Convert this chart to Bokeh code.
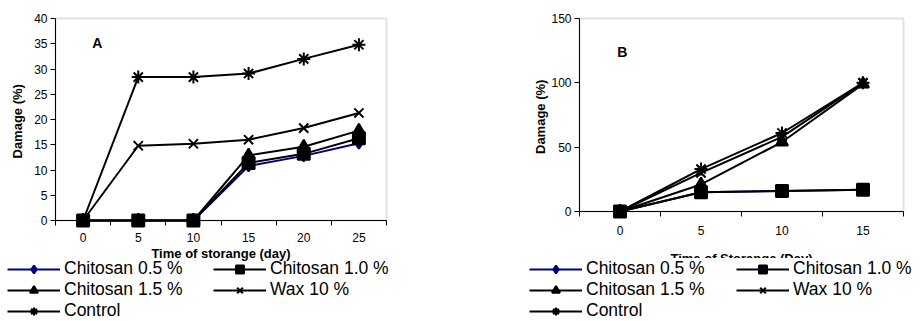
from bokeh.plotting import figure
from bokeh.models import (FixedTicker, Legend, LegendItem, Range1d, Label,
                          BoxAnnotation, LinearAxis)
from bokeh.layouts import row
from bokeh.embed import file_html
from bokeh.resources import INLINE

# ---------------- data ----------------
days_a = [0, 5, 10, 15, 20, 25]
chit05_a = [0, 0, 0, 10.8, 12.8, 15.3]
chit10_a = [0, 0, 0, 11.4, 13.2, 16.3]
chit15_a = [0, 0, 0, 12.9, 14.6, 17.8]
wax10_a = [0, 14.8, 15.2, 16.0, 18.3, 21.3]
control_a = [0, 28.4, 28.4, 29.1, 32.0, 34.8]

days_b = [0, 5, 10, 15]
chit05_b = [0, 15, 16, 17]
chit10_b = [0, 15, 16, 17]
chit15_b = [0, 21, 54, 99]
wax10_b = [0, 30, 58, 100]
control_b = [0, 33, 61, 100]

labels = ["Chitosan 0.5 %", "Chitosan 1.0 %", "Chitosan 1.5 %", "Wax 10 %", "Control"]
yticks_a = [0, 5, 10, 15, 20, 25, 30, 35, 40]
yticks_b = [0, 50, 100, 150]

FONT = "Liberation Sans"
NAVY = "#000080"
H = 321

styles = [
    dict(color=NAVY, marker="diamond", size=11, fill=NAVY),
    dict(color="black", marker="square", size=12, fill="black"),
    dict(color="black", marker="triangle", size=12, fill="black"),
    dict(color="black", marker="x", size=13, fill="black"),
    dict(color="black", marker="asterisk", size=13, fill="black"),
]
# legend fills column by column: reorder so it reads row by row
legend_order = [0, 2, 4, 1, 3]


def make_panel(days, series, yticks, width, frame_px, xlabel, letter,
               letter_xy, leg_loc, leg_lw, leg_bg_alpha, ylab_standoff,
               xtick_standoff, xlab_standoff):
    fl, fr, ft, fb = frame_px
    step = days[1] - days[0]
    xlo, xhi = days[0] - step / 2, days[-1] + step / 2
    ylo, yhi = yticks[0], yticks[-1]
    sx = (fr - fl) / (xhi - xlo)
    sy = (fb - ft) / (yhi - ylo)
    p = figure(width=width, height=H, output_backend="svg",
               toolbar_location=None,
               x_range=Range1d(xlo - fl / sx, xhi + (width - fr) / sx),
               y_range=Range1d(ylo - (H - fb) / sy, yhi + ft / sy),
               min_border=0, x_axis_location=None, y_axis_location=None)
    p.grid.visible = False
    p.outline_line_color = None
    p.background_fill_color = "white"
    p.border_fill_color = "white"

    p.add_layout(BoxAnnotation(left=xlo, right=xhi, bottom=ylo, top=yhi,
                               fill_alpha=0, line_color="#9a9a9a",
                               line_width=2, level="underlay"))

    minor = [d - step / 2 for d in days] + [xhi]
    xa = LinearAxis(fixed_location=ylo, bounds=(xlo, xhi),
                    ticker=FixedTicker(ticks=days, minor_ticks=minor))
    xa.major_tick_out = 0
    xa.major_tick_in = 0
    xa.minor_tick_out = 5
    xa.minor_tick_in = 0
    xa.minor_tick_line_color = "black"
    xa.axis_line_color = "black"
    xa.major_label_standoff = xtick_standoff
    xa.major_label_text_font = FONT
    xa.major_label_text_font_size = "12px"
    xa.major_label_text_color = "black"
    xa.axis_label = xlabel
    xa.axis_label_text_font = FONT
    xa.axis_label_text_font_size = "13px"
    xa.axis_label_text_font_style = "bold"
    xa.axis_label_text_color = "black"
    xa.axis_label_standoff = xlab_standoff
    p.add_layout(xa, "below")

    ya = LinearAxis(fixed_location=xlo, bounds=(ylo, yhi),
                    ticker=FixedTicker(ticks=yticks, minor_ticks=[]))
    ya.major_tick_out = 5
    ya.major_tick_in = 0
    ya.major_label_standoff = 3
    ya.major_label_text_font = FONT
    ya.major_label_text_font_size = "12px"
    ya.major_label_text_color = "black"
    ya.axis_line_color = "black"
    ya.axis_label = "Damage  (%)"
    ya.axis_label_text_font = FONT
    ya.axis_label_text_font_size = "13px"
    ya.axis_label_text_font_style = "bold"
    ya.axis_label_text_color = "black"
    ya.axis_label_standoff = ylab_standoff
    p.add_layout(ya, "left")

    items = []
    for lab, vals, st in zip(labels, series, styles):
        lr = p.line(days, vals, line_color=st["color"], line_width=2)
        sr = p.scatter(days, vals, marker=st["marker"], size=st["size"],
                       line_color=st["color"], fill_color=st["fill"],
                       line_width=2)
        items.append(LegendItem(label=lab, renderers=[lr, sr]))
    items = [items[i] for i in legend_order]

    p.add_layout(Label(x=letter_xy[0], y=letter_xy[1], text=letter,
                       text_font=FONT, text_font_size="14px",
                       text_font_style="bold", text_color="black",
                       text_baseline="middle", text_align="left"))

    leg = Legend(items=items, location=leg_loc, ncols=2,
                 glyph_width=53, glyph_height=20, label_height=20,
                 label_width=leg_lw, label_standoff=4, spacing=0,
                 padding=0, margin=0, border_line_color=None,
                 background_fill_color="white",
                 background_fill_alpha=leg_bg_alpha,
                 label_text_font=FONT, label_text_font_size="17.5px",
                 label_text_color="black")
    p.add_layout(leg, "center")
    return p


pa = make_panel(days_a, [chit05_a, chit10_a, chit15_a, wax10_a, control_a],
                yticks_a, 460, (55, 386, 18, 220),
                "Time of storange (day)", "A", (0.83, 35.1),
                (7, 0), 149, 0.0, 6, 7, 1)
pb = make_panel(days_b, [chit05_b, chit10_b, chit15_b, wax10_b, control_b],
                yticks_b, 460, (119, 443, 18, 211),
                "Time of Storange (Day)", "B", (-0.17, 124),
                (69, 0), 150, 1.0, 0, 9, 13)

layout = row(pa, pb)
open("out.html", "w").write(file_html(layout, INLINE))
